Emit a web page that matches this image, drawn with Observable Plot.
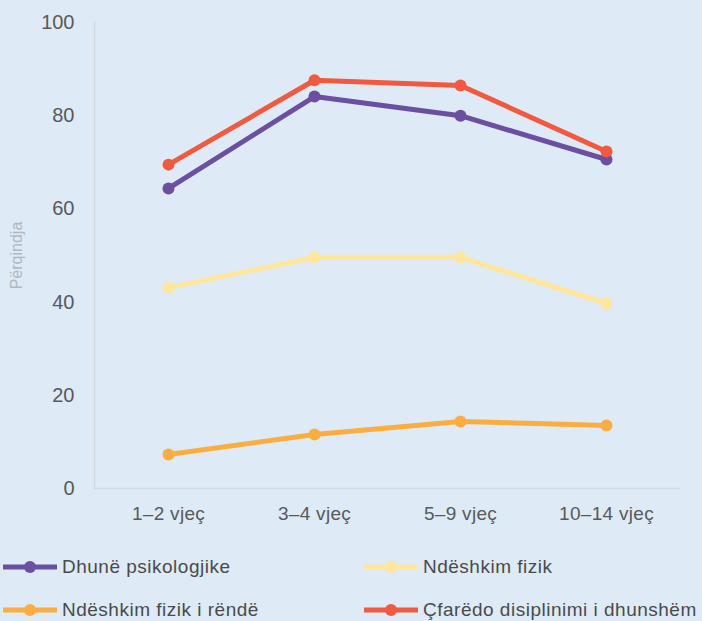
<!DOCTYPE html>
<html><head><meta charset="utf-8">
<script src="https://cdn.jsdelivr.net/npm/d3@7"></script>
<script src="https://cdn.jsdelivr.net/npm/@observablehq/plot@0.6"></script>
<style>
body{margin:0;background:#deeaf6;font-family:"Liberation Sans",Arial,sans-serif;width:702px;height:621px;overflow:hidden;position:relative}
#legend{position:absolute;left:0;top:0;width:702px;height:621px;pointer-events:none}
.item{position:absolute;display:flex;align-items:center;font-size:19px;letter-spacing:0.5px;color:#4a4a4a;height:24px;white-space:nowrap}
.item svg{margin-right:4px}
</style></head><body>
<div id="chart"></div>
<div id="legend"></div>
<script>
const categories = ["1–2 vjeç","3–4 vjeç","5–9 vjeç","10–14 vjeç"];
const seriesNames = ["Dhunë psikologjike","Ndëshkim fizik","Ndëshkim fizik i rëndë","Çfarëdo disiplinimi i dhunshëm"];
const colors = ["#6a4fa3","#ffe69b","#fbae3f","#f15a3f"];
const psikologjike = [64.4, 84.1, 80.0, 70.6];
const fizik = [43.1, 49.6, 49.6, 39.7];
const fizikRende = [7.3, 11.6, 14.4, 13.5];
const cfaredo = [69.5, 87.6, 86.5, 72.3];
const yTicks = [0,20,40,60,80,100];

const values = [psikologjike, fizik, fizikRende, cfaredo];
const data = [];
seriesNames.forEach((s,i)=>categories.forEach((c,j)=>data.push({series:s,cat:c,value:values[i][j]})));
const drawOrder = ["Ndëshkim fizik","Ndëshkim fizik i rëndë","Dhunë psikologjike","Çfarëdo disiplinimi i dhunshëm"];

const marks = [
  Plot.frame({anchor:"left", stroke:"#d3d9df", strokeWidth:1.5}),
  Plot.ruleY([0], {stroke:"#d3d9df", strokeWidth:1.5}),
  Plot.axisY({ticks:yTicks, tickSize:0, tickPadding:20, fontSize:20, color:"#595959", label:"Përqindja", labelAnchor:"center", labelArrow:"none", labelOffset:84}),
  Plot.axisX({tickSize:0, tickPadding:18, fontSize:19, color:"#595959", label:null})
];
for (const s of drawOrder) {
  const c = colors[seriesNames.indexOf(s)];
  const d = data.filter(r=>r.series===s);
  marks.push(Plot.line(d,{x:"cat",y:"value",stroke:c,strokeWidth:5}));
  marks.push(Plot.dot(d,{x:"cat",y:"value",fill:c,r:6}));
}
const chart = Plot.plot({
  width:702, height:530,
  marginLeft:94, marginRight:22, marginTop:22, marginBottom:42,
  style:{background:"transparent", fontFamily:"Liberation Sans, Arial, sans-serif"},
  x:{type:"point", domain:categories, padding:0.5},
  y:{domain:[0,100]},
  marks
});
document.getElementById("chart").append(chart);
chart.querySelectorAll("g[aria-label='y-axis label']").forEach(g=>{g.setAttribute("fill","#b0b8c0");g.setAttribute("font-size","16");});
chart.querySelectorAll("g[aria-label='x-axis tick label'] text").forEach(t=>t.setAttribute("letter-spacing","0.3"));

const pos = [[2,567],[363,567],[2,610],[363,610]];
const legend = document.getElementById("legend");
seriesNames.forEach((s,i)=>{
  const div = document.createElement("div");
  div.className="item";
  div.style.left = pos[i][0] + "px";
  div.style.top = (pos[i][1]-12)+"px";
  div.innerHTML = `<svg width="56" height="14"><line x1="1" x2="55" y1="7" y2="7" stroke="${colors[i]}" stroke-width="5"/><circle cx="28" cy="7" r="6" fill="${colors[i]}"/></svg><span>${s}</span>`;
  legend.append(div);
});
</script></body></html>
